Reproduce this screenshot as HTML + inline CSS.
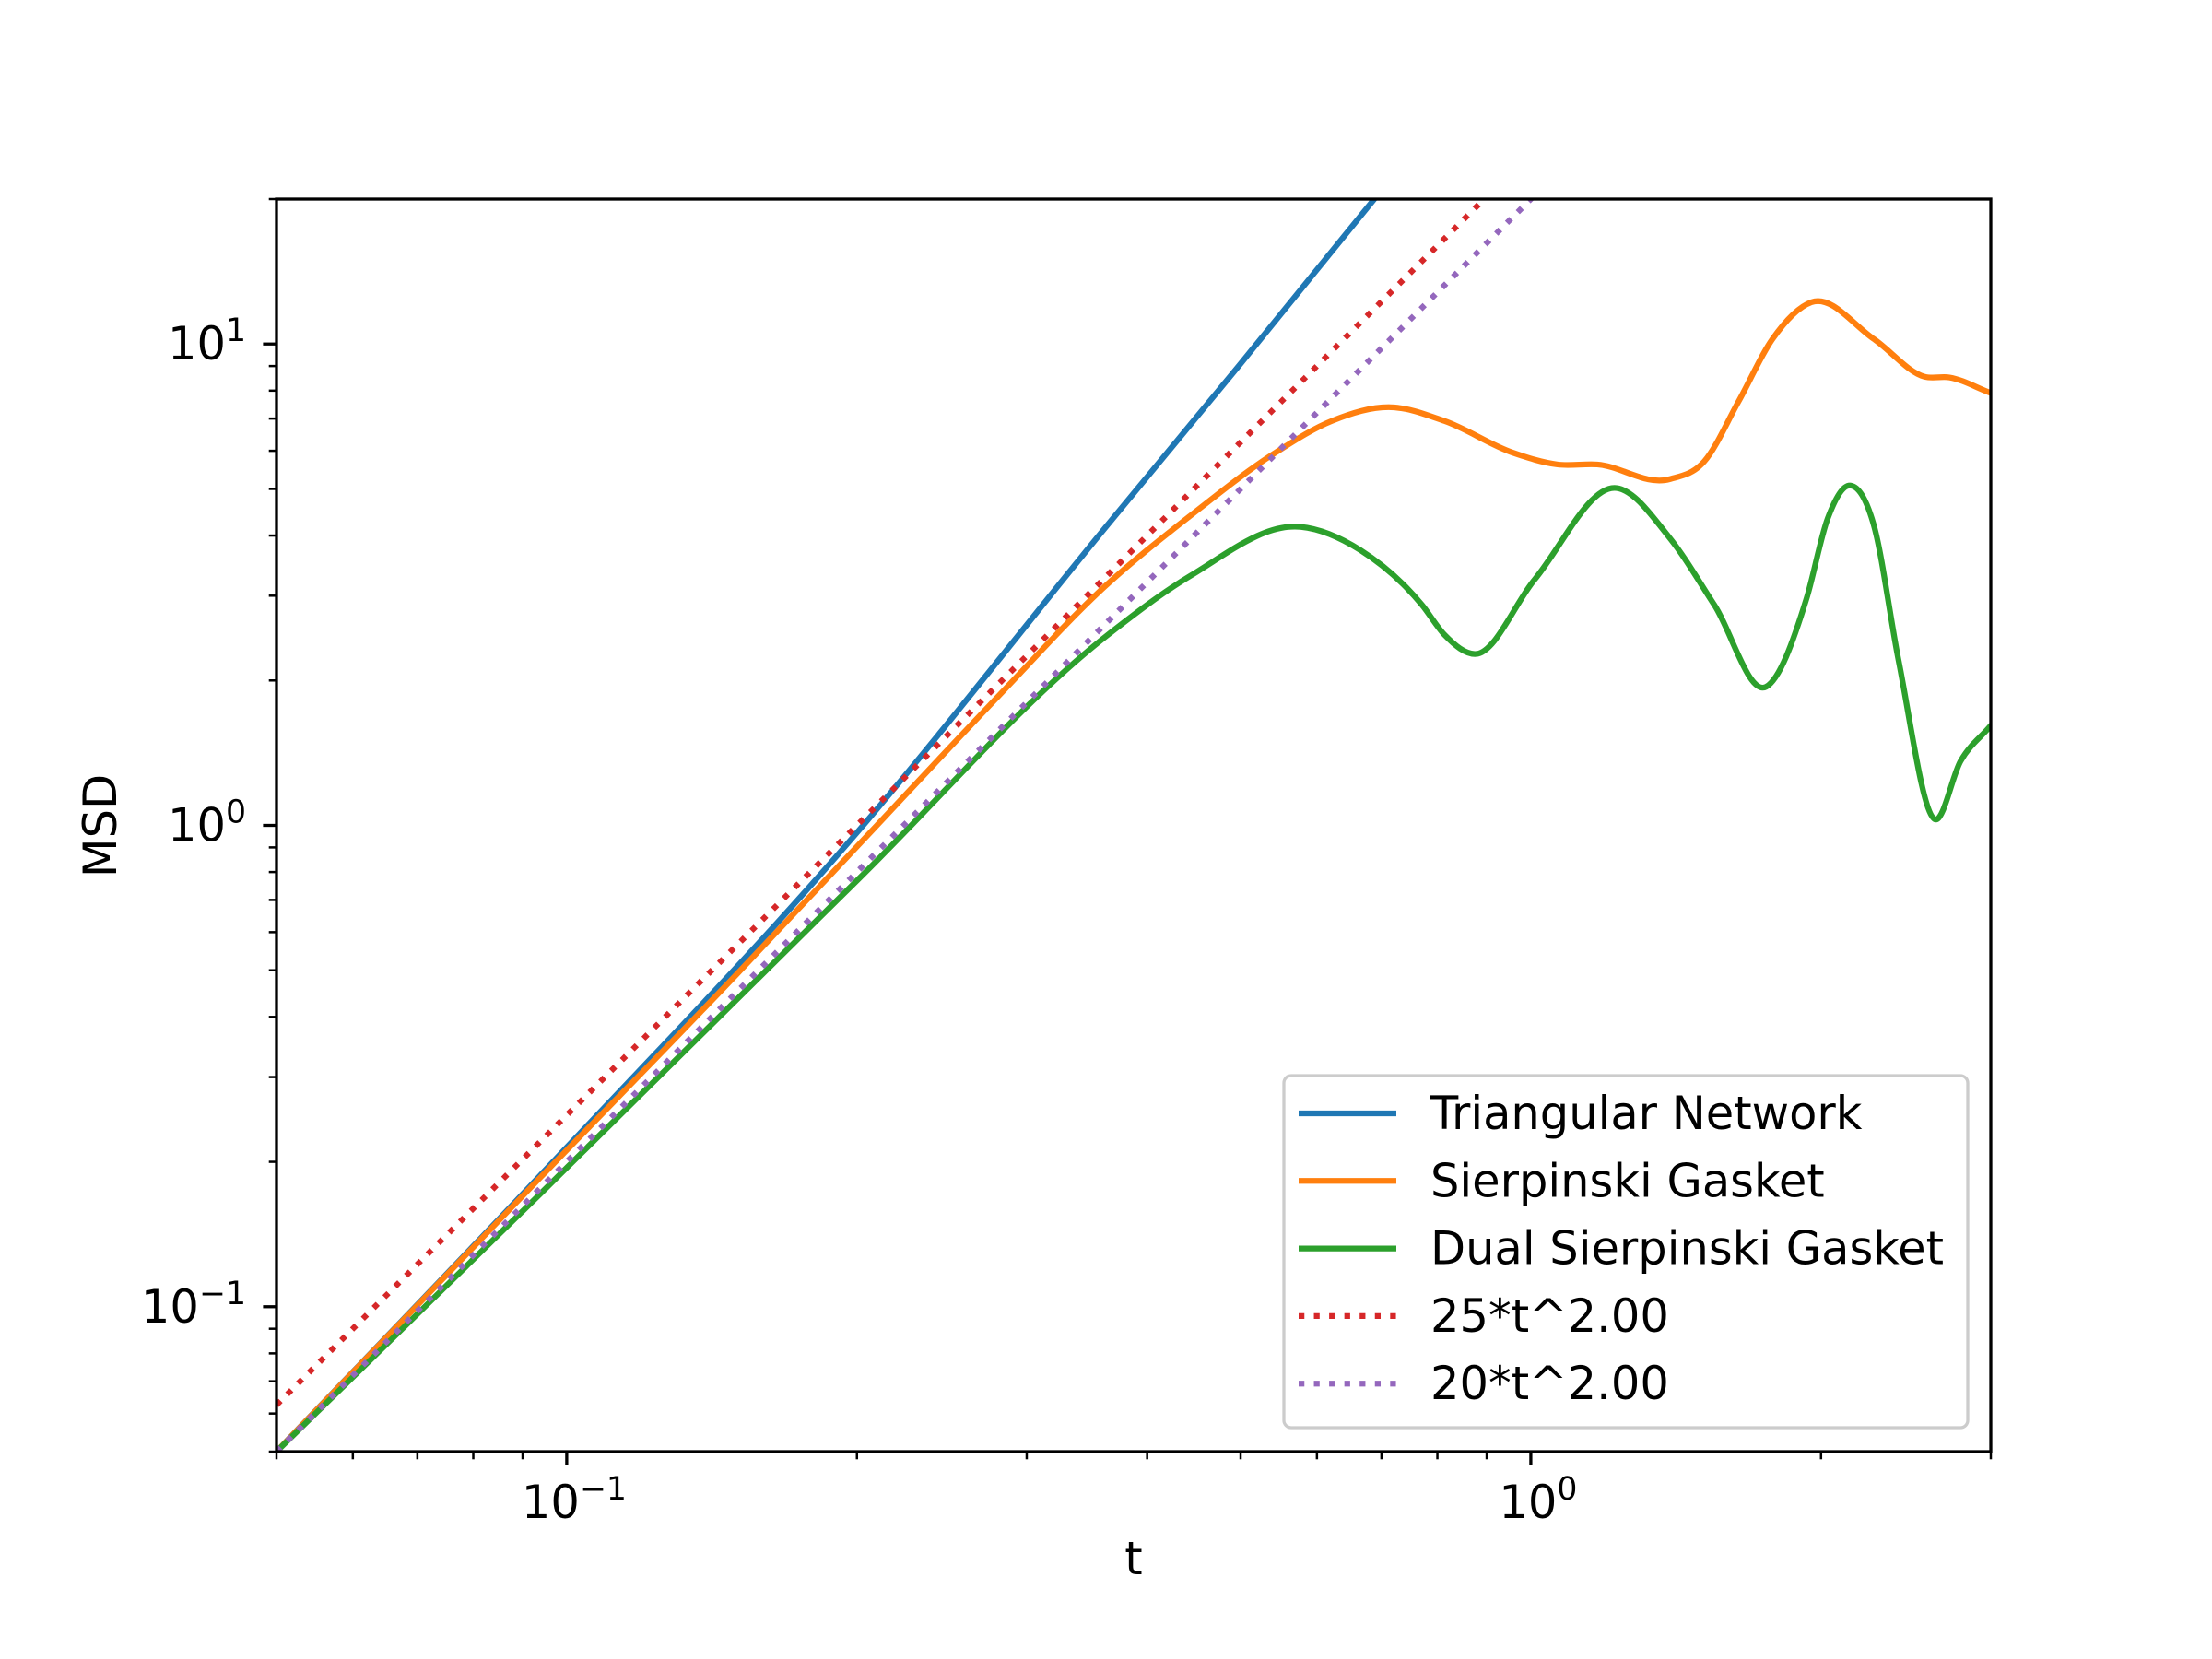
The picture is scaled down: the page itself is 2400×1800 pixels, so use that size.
<!DOCTYPE html>
<html><head><meta charset="utf-8"><title>MSD vs t</title>
<style>
html,body{margin:0;padding:0;background:#fff;}
svg{display:block;font-family:"DejaVu Sans","Liberation Sans",sans-serif;}
</style></head>
<body>
<svg id="chart" width="2400" height="1800" viewBox="0 0 2400 1800" xmlns="http://www.w3.org/2000/svg">
<rect width="2400" height="1800" fill="#fff"/>
<defs><clipPath id="plotclip"><rect x="300" y="216" width="1860" height="1359"/></clipPath></defs>
<g id="series" clip-path="url(#plotclip)"></g>
<g id="axes"></g>
<g id="legend"></g>
</svg>
<script>
// ---- data ----
const triT   = [0.05, 0.094, 0.2008, 0.3625, 0.5, 0.688, 0.75];
const triMSD = [0.05, 0.188, 0.975, 4.17, 9.1, 20, 24.8];

const sierT   = [0.05, 0.094, 0.15, 0.2008, 0.28, 0.3625, 0.4436, 0.5436, 0.6217, 0.7157, 0.8134, 0.957, 1.066, 1.172, 1.394, 1.513, 1.642, 1.781, 1.954, 2.269, 2.561, 2.718, 2.99];
const sierMSD = [0.05, 0.186, 0.49, 0.911, 1.85, 3.15, 4.4, 5.95, 6.92, 7.39, 6.92, 5.95, 5.62, 5.62, 5.24, 5.70, 7.59, 10.24, 12.21, 10.24, 8.55, 8.52, 7.93];

const dualT   = [0.05, 0.094, 0.2008, 0.3625, 0.4436, 0.577, 0.6656, 0.7712, 0.8134, 0.8766, 1.009, 1.228, 1.394, 1.550, 1.754, 1.932, 2.032, 2.147, 2.269, 2.407, 2.624, 2.791, 2.99];
const dualMSD = [0.05, 0.172, 0.774, 2.47, 3.3, 4.17, 3.73, 2.87, 2.49, 2.27, 3.24, 5.02, 3.95, 2.87, 1.94, 2.96, 4.34, 5.08, 4.2, 2.20, 1.03, 1.36, 1.60];

const fitCoef = [25, 20];
const fitExp  = [2.0, 2.0];

const xMajorTicks = [0.1, 1];
const xMajorLabels = [["10","\u22121"], ["10","0"]];
const xMinorTicks = [0.05,0.06,0.07,0.08,0.09,0.2,0.3,0.4,0.5,0.6,0.7,0.8,0.9,2,3];
const yMajorTicks = [0.1, 1, 10];
const yMajorLabels = [["10","\u22121"], ["10","0"], ["10","1"]];
const yMinorTicks = [0.05,0.06,0.07,0.08,0.09,0.2,0.3,0.4,0.5,0.6,0.7,0.8,0.9,2,3,4,5,6,7,8,9,20];

const legendLabels = ["Triangular Network","Sierpinski Gasket","Dual Sierpinski Gasket","25*t^2.00","20*t^2.00"];

// ---- axes ----
const X0=300, X1=2160, Y0=216, Y1=1575;
const xMin=0.05, xMax=3, yMin=0.05, yMax=20;
const NS="http://www.w3.org/2000/svg";
function xs(t){return X0+(Math.log10(t)-Math.log10(xMin))/(Math.log10(xMax)-Math.log10(xMin))*(X1-X0);}
function ys(v){return Y1-(Math.log10(v)-Math.log10(yMin))/(Math.log10(yMax)-Math.log10(yMin))*(Y1-Y0);}
function mk(tag,attrs,parent){const e=document.createElementNS(NS,tag);for(const k in attrs)e.setAttribute(k,attrs[k]);parent.appendChild(e);return e;}

function smoothPath(px,py){
  const n=px.length, m=[];
  for(let i=0;i<n;i++){
    if(i===0){m.push((py[1]-py[0])/(px[1]-px[0]));}
    else if(i===n-1){m.push((py[n-1]-py[n-2])/(px[n-1]-px[n-2]));}
    else{
      const h0=px[i]-px[i-1],h1=px[i+1]-px[i];
      const s0=(py[i]-py[i-1])/h0,s1=(py[i+1]-py[i])/h1;
      m.push((s0*h1+s1*h0)/(h0+h1));
    }
  }
  let d="M"+px[0].toFixed(2)+","+py[0].toFixed(2);
  for(let i=0;i<n-1;i++){
    const h=px[i+1]-px[i];
    d+=" C"+(px[i]+h/3).toFixed(2)+","+(py[i]+m[i]*h/3).toFixed(2)+" "+(px[i+1]-h/3).toFixed(2)+","+(py[i+1]-m[i+1]*h/3).toFixed(2)+" "+px[i+1].toFixed(2)+","+py[i+1].toFixed(2);
  }
  return d;
}

const gS=document.getElementById('series');
const colors=["#1f77b4","#ff7f0e","#2ca02c","#d62728","#9467bd"];
const solid=[[triT,triMSD,"triangular-network-line"],[sierT,sierMSD,"sierpinski-gasket-line"],[dualT,dualMSD,"dual-sierpinski-gasket-line"]];
solid.forEach((s,i)=>{
  const p=mk('path',{d:smoothPath(s[0].map(xs),s[1].map(ys)),fill:"none",stroke:colors[i],"stroke-width":6.25,"stroke-linejoin":"round","stroke-linecap":"square"},gS);
  
  
});
fitCoef.forEach((c,i)=>{
  const n=60,px=[],py=[];
  for(let k=0;k<=n;k++){const t=Math.pow(10,Math.log10(xMin)+k/n*(Math.log10(xMax)-Math.log10(xMin)));px.push(xs(t));py.push(ys(c*Math.pow(t,fitExp[i])));}
  const p=mk('path',{d:"M"+px.map((x,k)=>x.toFixed(2)+","+py[k].toFixed(2)).join(" L"),fill:"none",stroke:colors[3+i],"stroke-width":6.25,"stroke-dasharray":"6.25 10.3"},gS);
  
  
});

const gA=document.getElementById('axes');
const fs=49.5;
function supLabel(x,y,parts,anchor,name){
  const t=mk('text',{x:x,y:y,"font-size":fs,"text-anchor":anchor,fill:"#000"},gA);
  
  
  const a=document.createElementNS(NS,'tspan');a.textContent=parts[0];t.appendChild(a);
  const b=document.createElementNS(NS,'tspan');b.setAttribute('font-size',fs*0.7);b.setAttribute('dy',-20);b.textContent=parts[1];t.appendChild(b);
}
xMinorTicks.forEach(v=>{
  const l=mk('line',{x1:xs(v),x2:xs(v),y1:Y1,y2:Y1+8.3,stroke:"#000","stroke-width":2.5},gA);
  
  
});
xMajorTicks.forEach((v,i)=>{
  const l=mk('line',{x1:xs(v),x2:xs(v),y1:Y1,y2:Y1+14.6,stroke:"#000","stroke-width":3.3},gA);
  
  
  supLabel(xs(v)+8,Y1+72,xMajorLabels[i],"middle","x-tick-label");
});
yMinorTicks.forEach(v=>{
  const l=mk('line',{x1:X0-8.3,x2:X0,y1:ys(v),y2:ys(v),stroke:"#000","stroke-width":2.5},gA);
  
  
});
yMajorTicks.forEach((v,i)=>{
  const l=mk('line',{x1:X0-14.6,x2:X0,y1:ys(v),y2:ys(v),stroke:"#000","stroke-width":3.3},gA);
  
  
  supLabel(X0-33,ys(v)+17,yMajorLabels[i],"end","y-tick-label");
});
const frame=mk('rect',{x:X0,y:Y0,width:X1-X0,height:Y1-Y0,fill:"none",stroke:"#000","stroke-width":3.3},gA);


const xl=mk('text',{x:(X0+X1)/2,y:1708,"font-size":fs,"text-anchor":"middle"},gA);
xl.textContent="t";


const yl=mk('text',{x:0,y:0,"font-size":fs,"text-anchor":"middle",transform:"translate(126,896) rotate(-90)"},gA);
yl.textContent="MSD";



// ---- legend ----
const gL=document.getElementById('legend');
const box=mk('rect',{x:1393,y:1167,width:742,height:382,rx:8,ry:8,fill:"#fff","fill-opacity":0.8,stroke:"#cccccc","stroke-width":3.3},gL);


legendLabels.forEach((lab,i)=>{
  const cy=1208+i*73.3;
  const attrs={x1:1409,x2:1515,y1:cy,y2:cy,stroke:colors[i],"stroke-width":6.25};
  if(i>=3){attrs["stroke-dasharray"]="6.25 10.3";}
  const l=mk('line',attrs,gL);
  
  
  const t=mk('text',{x:1552,y:cy+17,"font-size":fs,fill:"#000"},gL);
  t.textContent=lab;
  
  
});
</script>
</body></html>
